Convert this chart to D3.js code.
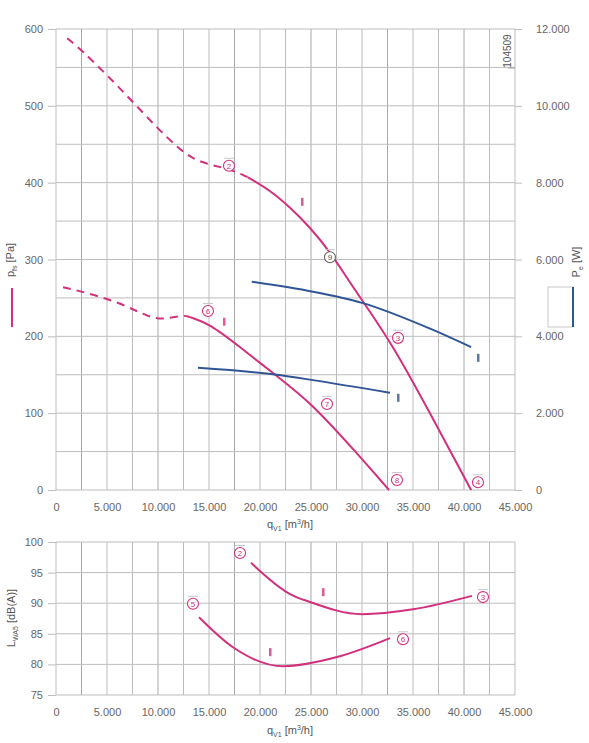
<!DOCTYPE html>
<html>
<head>
<meta charset="utf-8">
<script src="https://cdn.jsdelivr.net/npm/d3@7"></script>
<style>
  body { margin: 0; background: #fff; }
  text { font-family: "Liberation Sans", Arial, sans-serif; fill: #666; }
</style>
</head>
<body>
<svg width="589" height="743"></svg>
<script>
// pressure curves, q in m3/h, p in Pa
const pA_dash = [[1100, 588], [2550, 572], [5000, 540], [7550, 505], [10000, 470], [12160, 443], [13430, 431], [15100, 423], [17000, 418], [18800, 407]];
const pA_solid = [[18800, 407], [21000, 390], [22940, 368], [24900, 342], [26860, 310], [28530, 276], [30100, 245], [33000, 189], [36670, 100], [40700, 0]];
const pB_dash = [[690, 264], [2650, 258], [6270, 244], [9200, 224], [10700, 222], [12450, 228], [13140, 225]];
const pB_solid = [[13140, 225], [15100, 216], [17750, 189], [21670, 148], [24900, 115], [29500, 48], [32650, 0]];
// power curves, W
const wA = [[19200, 5420], [25200, 5160], [30000, 4870], [36670, 4200], [40700, 3720]];
const wB = [[13920, 3180], [21670, 3000], [25200, 2860], [32750, 2530]];
// sound curves, dB(A)
const sA = [[19120, 96.6], [22940, 91.5], [24900, 90.2], [30000, 88.2], [35000, 89.0], [40780, 91.2]];
const sB = [[14020, 87.7], [17350, 82.8], [22260, 79.7], [27550, 81.2], [32750, 84.3]];

const xTicks = d3.range(0, 45001, 5000);
const pTicks = d3.range(0, 601, 100);
const wTicks = d3.range(0, 12001, 2000);
const sTicks = d3.range(75, 101, 5);

// circled labels
const topLabels = [
  {n: "2", q: 16960, p: 422}, {n: "9", q: 26860, p: 303, grey: true}, {n: "3", q: 33530, p: 198},
  {n: "4", q: 41370, p: 10}, {n: "6", q: 14900, p: 233}, {n: "7", q: 26570, p: 112}, {n: "8", q: 33430, p: 13}
];
const topBars = [{q: 24120, p: 375, c: "pink"}, {q: 16470, p: 219, c: "pink"}, {q: 41370, p: 172, c: "blue"}, {q: 33530, p: 120, c: "blue"}];
const botLabels = [{n: "2", q: 18040, p: 98.2}, {n: "5", q: 13430, p: 89.9}, {n: "3", q: 41860, p: 91.0}, {n: "6", q: 34020, p: 84.1}];
const botBars = [{q: 20980, p: 82.0}, {q: 26180, p: 91.8}];

const PINK = "#d2307c", BLUE = "#2f5594", GRID = "#bdbdbd";
const fmt = d => d === 0 ? "0" : d3.format(",")(d).replace(/,/g, ".");
const fmtW = d => d === 0 ? "0" : d3.format(",.3f")(d / 1000).replace(/,/g, "");

const svg = d3.select("svg");
const x = d3.scaleLinear().domain([0, 45000]).range([56, 515]);
const yP = d3.scaleLinear().domain([0, 600]).range([490, 29]);
const yW = d3.scaleLinear().domain([0, 12000]).range([490, 29]);
const yS = d3.scaleLinear().domain([75, 100]).range([695, 542]);

function grid(y, yVals, top, bottom) {
  const g = svg.append("g");
  g.selectAll(".v").data(d3.range(0, 45001, 2500)).enter().append("line")
    .attr("x1", d => x(d)).attr("x2", d => x(d)).attr("y1", top).attr("y2", bottom)
    .attr("stroke", (d, i) => i % 3 === 1 ? "#a8a8a8" : GRID).attr("stroke-width", 1);
  g.selectAll(".h").data(yVals).enter().append("line")
    .attr("x1", x(0)).attr("x2", x(45000)).attr("y1", d => y(d)).attr("y2", d => y(d))
    .attr("stroke", GRID).attr("stroke-width", 1);
  return g;
}

// top panel
grid(yP, d3.range(0, 601, 50), yP(600), yP(0));
svg.append("g").attr("transform", `translate(${x(0)},0)`)
  .call(d3.axisLeft(yP).tickValues(pTicks).tickSize(8).tickPadding(5));
svg.append("g").attr("transform", `translate(${x(45000)},0)`)
  .call(d3.axisRight(yW).tickValues(wTicks).tickSize(7).tickPadding(14).tickFormat(fmtW));
svg.append("g").attr("transform", `translate(0,${yP(0)})`)
  .call(d3.axisBottom(x).tickValues(xTicks).tickSize(0).tickPadding(13).tickFormat(fmt));

// bottom panel
grid(yS, sTicks, yS(100), yS(75));
svg.append("g").attr("transform", `translate(${x(0)},0)`)
  .call(d3.axisLeft(yS).tickValues(sTicks).tickSize(8).tickPadding(5));
svg.append("g").attr("transform", `translate(0,${yS(75)})`)
  .call(d3.axisBottom(x).tickValues(xTicks).tickSize(0).tickPadding(13).tickFormat(fmt));

svg.selectAll(".domain").remove();
svg.selectAll(".tick line").attr("stroke", GRID);
svg.selectAll(".tick text").attr("font-size", 11).style("fill", "#666");

// curves
const line = (sy, c) => d3.line().x(d => x(d[0])).y(d => sy(d[1])).curve(c || d3.curveBasis);
const draw = (data, sy, col, dash, c) => svg.append("path").datum(data)
  .attr("d", line(sy, c)).attr("fill", "none").attr("stroke", col).attr("stroke-width", 2)
  .attr("stroke-dasharray", dash || null);

draw(pA_dash, yP, PINK, "8,6");
draw(pA_solid, yP, PINK);
draw(pB_dash, yP, PINK, "8,6");
draw(pB_solid, yP, PINK);
draw(wA, yW, BLUE, null, d3.curveMonotoneX);
draw(wB, yW, BLUE, null, d3.curveMonotoneX);
draw(sA, yS, PINK, null, d3.curveMonotoneX);
draw(sB, yS, PINK, null, d3.curveMonotoneX);

function circled(list, sy) {
  const g = svg.selectAll(null).data(list).enter().append("g")
    .attr("transform", d => `translate(${x(d.q)},${sy(d.p)})`);
  g.append("circle").attr("r", 5.5).attr("fill", "#fff")
    .attr("stroke", d => d.grey ? "#666" : PINK).attr("stroke-width", 1.1);
  g.append("line").attr("x1", -5).attr("x2", 5).attr("y1", -7.5).attr("y2", -7.5)
    .attr("stroke", "#c8c8c8").attr("stroke-width", 1);
  g.append("text").attr("text-anchor", "middle").attr("dy", "0.35em")
    .attr("font-size", 8).style("fill", d => d.grey ? "#555" : PINK).text(d => d.n);
}
circled(topLabels, yP);
circled(botLabels, yS);

function bars(list, sy) {
  svg.selectAll(null).data(list).enter().append("rect")
    .attr("x", d => x(d.q) - 1).attr("y", d => sy(d.p) - 4).attr("width", 2.5).attr("height", 8)
    .attr("fill", d => d.c === "blue" ? BLUE : PINK).attr("opacity", 0.8);
}
bars(topBars, yP);
bars(botBars, yS);

// axis titles
function qTitle(cx, cy) {
  const t = svg.append("text").attr("x", cx).attr("y", cy).attr("text-anchor", "middle")
    .attr("font-size", 11).style("fill", "#555");
  t.append("tspan").text("q");
  t.append("tspan").attr("font-size", 7).attr("dy", 3).text("V1");
  t.append("tspan").attr("dy", -3).text(" [m");
  t.append("tspan").attr("font-size", 7).attr("dy", -4).text("3");
  t.append("tspan").attr("dy", 4).text("/h]");
}
qTitle(290, 528);
qTitle(290, 734);

function vTitle(cx, cy, main, sub, rest) {
  const t = svg.append("text").attr("transform", `translate(${cx},${cy}) rotate(-90)`)
    .attr("text-anchor", "middle").attr("font-size", 11).style("fill", "#555");
  t.append("tspan").text(main);
  t.append("tspan").attr("font-size", 7).attr("dy", 3).text(sub);
  t.append("tspan").attr("dy", -3).text(rest);
}
vTitle(14, 260, "p", "fs", " [Pa]");
vTitle(580, 262, "P", "e", " [W]");
vTitle(15, 618, "L", "WA5", " [dB(A)]");

// legends
svg.append("line").attr("x1", 12).attr("x2", 12).attr("y1", 288).attr("y2", 327)
  .attr("stroke", PINK).attr("stroke-width", 2);
svg.append("rect").attr("x", 548).attr("y", 287).attr("width", 25).attr("height", 40)
  .attr("fill", "#fff").attr("stroke", "#c8c8c8");
svg.append("line").attr("x1", 573).attr("x2", 573).attr("y1", 287).attr("y2", 327)
  .attr("stroke", BLUE).attr("stroke-width", 2);

// id tag
svg.append("text").attr("transform", "translate(511,51) rotate(-90)").attr("text-anchor", "middle")
  .attr("font-size", 10).style("fill", "#555").text("104509");
svg.append("line").attr("x1", 508).attr("x2", 515).attr("y1", 68).attr("y2", 68)
  .attr("stroke", "#999");
</script>
</body>
</html>
